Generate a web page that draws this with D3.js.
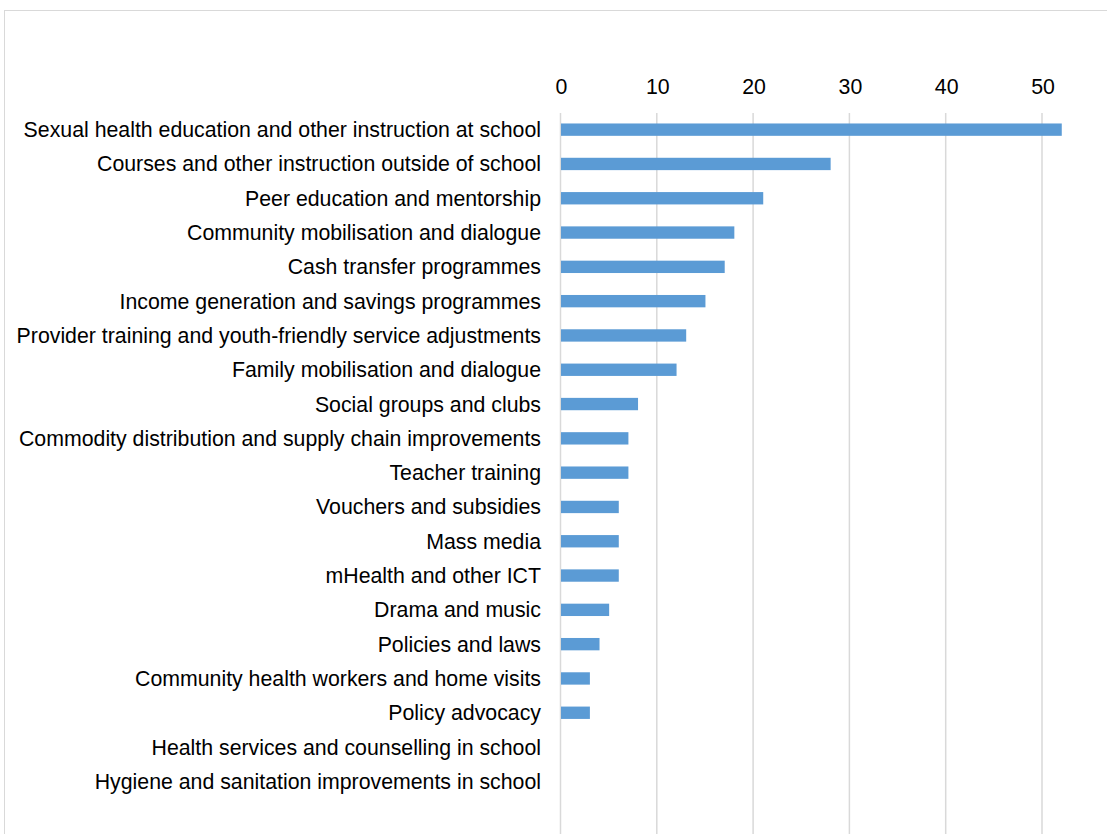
<!DOCTYPE html>
<html>
<head>
<meta charset="utf-8">
<script src="https://cdn.jsdelivr.net/npm/d3@7"></script>
<style>
  html, body { margin: 0; padding: 0; background: #fff; }
  svg { display: block; }
</style>
</head>
<body>
<div id="mainDiv"></div>
<script>
'use strict';

var categories = [
    "Sexual health education and other instruction at school",
    "Courses and other instruction outside of school",
    "Peer education and mentorship",
    "Community mobilisation and dialogue",
    "Cash transfer programmes",
    "Income generation and savings programmes",
    "Provider training and youth-friendly service adjustments",
    "Family mobilisation and dialogue",
    "Social groups and clubs",
    "Commodity distribution and supply chain improvements",
    "Teacher training",
    "Vouchers and subsidies",
    "Mass media",
    "mHealth and other ICT",
    "Drama and music",
    "Policies and laws",
    "Community health workers and home visits",
    "Policy advocacy",
    "Health services and counselling in school",
    "Hygiene and sanitation improvements in school"
];

var values = [52, 28, 21, 18, 17, 15, 13, 12, 8, 7, 7, 6, 6, 6, 5, 4, 3, 3, 0, 0];

var tickValues = [0, 10, 20, 30, 40, 50];

var myApp = {};

myApp.width = 1107;
myApp.height = 834;
myApp.font = "'Liberation Sans', Arial, sans-serif";
myApp.fontSize = "21.3px";

myApp.run = function ()
{
    var svg = d3.select("#mainDiv").append("svg")
        .attr("width", myApp.width)
        .attr("height", myApp.height);

    // chart area border (runs off the right and bottom edges)
    svg.append("rect")
        .attr("x", 4.5)
        .attr("y", 10.5)
        .attr("width", myApp.width + 20)
        .attr("height", myApp.height + 20)
        .attr("fill", "none")
        .attr("stroke", "#d9d9d9")
        .attr("stroke-width", 1);

    var x = d3.scaleLinear()
        .domain([0, 50])
        .range([561, 1042.5]);

    var y = d3.scaleBand()
        .domain(categories)
        .range([112.5, 798.5])
        .paddingInner(0.64)
        .paddingOuter(0.32);

    // vertical gridlines
    svg.append("g")
        .selectAll("line")
        .data(tickValues)
        .enter()
        .append("line")
            .attr("x1", function(d) { return x(d) - 0.5; })
            .attr("x2", function(d) { return x(d) - 0.5; })
            .attr("y1", 113)
            .attr("y2", myApp.height)
            .attr("stroke", "#d9d9d9")
            .attr("stroke-width", 1.5);

    // top axis labels
    var axis = svg.append("g")
        .attr("transform", "translate(0,94)")
        .call(d3.axisTop(x).tickValues(tickValues).tickSize(0).tickPadding(0));
    axis.select(".domain").remove();
    axis.selectAll("text")
        .attr("font-family", myApp.font)
        .attr("font-size", myApp.fontSize)
        .attr("fill", "#000");

    // bars
    svg.append("g")
        .selectAll("rect")
        .data(values)
        .enter()
        .append("rect")
            .attr("x", x(0))
            .attr("y", function(d, i) { return y(categories[i]); })
            .attr("width", function(d) { return x(d) - x(0); })
            .attr("height", y.bandwidth())
            .attr("fill", "#5b9bd5");

    // category labels
    svg.append("g")
        .selectAll("text")
        .data(categories)
        .enter()
        .append("text")
            .text(function(d) { return d; })
            .attr("x", 541)
            .attr("y", function(d) { return y(d) + y.bandwidth() / 2; })
            .attr("dy", "0.35em")
            .attr("text-anchor", "end")
            .attr("font-family", myApp.font)
            .attr("font-size", myApp.fontSize)
            .attr("fill", "#000");
};

window.onload = myApp.run;
</script>
</body>
</html>
